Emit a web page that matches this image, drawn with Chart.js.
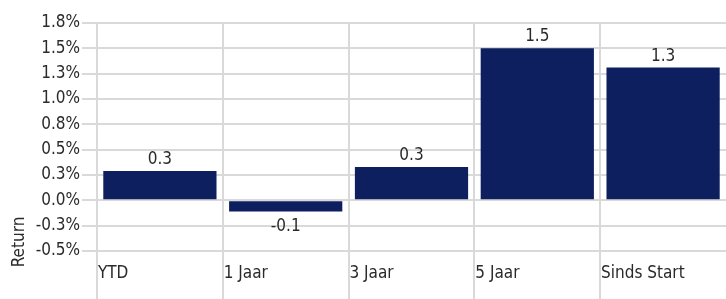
<!DOCTYPE html>
<html>
<head>
<meta charset="utf-8">
<script src="https://cdn.jsdelivr.net/npm/chart.js@4"></script>
<style>
  html, body { margin: 0; padding: 0; background: #fff; }
</style>
</head>
<body>
<canvas id="rendement" width="726" height="299"></canvas>
<script>
// Rendement per periode
const categories = ["YTD", "1 Jaar", "3 Jaar", "5 Jaar", "Sinds Start"];
const returns = [0.29, -0.11, 0.33, 1.5, 1.31];
const yMin = -0.5;
const yMax = 1.75;
const yStep = 0.25;

const fontFamily = "'DejaVu Sans Condensed', 'Liberation Sans', sans-serif";
const fontSize = 17;
const textColor = "#2a2a2a";
const gridColor = "#d9d9d9";

// waarde boven/onder de balk
const valueLabels = {
  id: "valueLabels",
  afterDatasetsDraw(chart) {
    const ctx = chart.ctx;
    const meta = chart.getDatasetMeta(0);
    ctx.save();
    ctx.font = fontSize + "px " + fontFamily;
    ctx.fillStyle = textColor;
    ctx.textAlign = "center";
    meta.data.forEach(function (bar, i) {
      const v = returns[i];
      const txt = v.toFixed(1);
      if (v >= 0) {
        ctx.textBaseline = "bottom";
        ctx.fillText(txt, bar.x, bar.y - 3);
      } else {
        ctx.textBaseline = "top";
        ctx.fillText(txt, bar.x, bar.y + 7);
      }
    });
    // as-titel links onderin
    ctx.translate(20, chart.chartArea.bottom - 9);
    ctx.rotate(-Math.PI / 2);
    ctx.textBaseline = "middle";
    ctx.fillText("Return", 0, 0);
    ctx.restore();
  },
};

const ctx = document.getElementById("rendement").getContext("2d");
new Chart(ctx, {
  type: "bar",
  data: {
    labels: categories,
    datasets: [
      {
        label: "Return",
        data: returns,
        backgroundColor: "#0d1f5e",
        borderWidth: 0,
        barPercentage: 0.9,
        categoryPercentage: 1.0,
      },
    ],
  },
  options: {
    responsive: false,
    animation: false,
    layout: { padding: { top: 23, right: 0 } },
    plugins: {
      legend: { display: false },
      tooltip: { enabled: false },
    },
    scales: {
      x: {
        border: { display: false },
        grid: {
          // laatste lijn (rechterrand) niet tekenen
          color: function (c) {
            return c.type === "tick" ? gridColor : "rgba(0,0,0,0)";
          },
          lineWidth: 2,
          tickLength: 48,
          offset: true,
        },
        ticks: {
          color: textColor,
          font: { family: fontFamily, size: fontSize },
          align: "start",
          labelOffset: -62,
          padding: -36,
          maxRotation: 0,
          autoSkip: false,
        },
        afterFit(scale) {
          scale.height = 48;
        },
      },
      y: {
        min: yMin,
        max: yMax,
        border: { display: false },
        grid: {
          color: gridColor,
          lineWidth: 2,
          tickLength: 15,
        },
        ticks: {
          stepSize: yStep,
          color: textColor,
          font: { family: fontFamily, size: fontSize },
          padding: 2,
          callback: function (v) {
            return v.toFixed(1) + "%";
          },
        },
        afterFit(scale) {
          scale.width = 97;
        },
      },
    },
  },
  plugins: [valueLabels],
});
</script>
</body>
</html>
